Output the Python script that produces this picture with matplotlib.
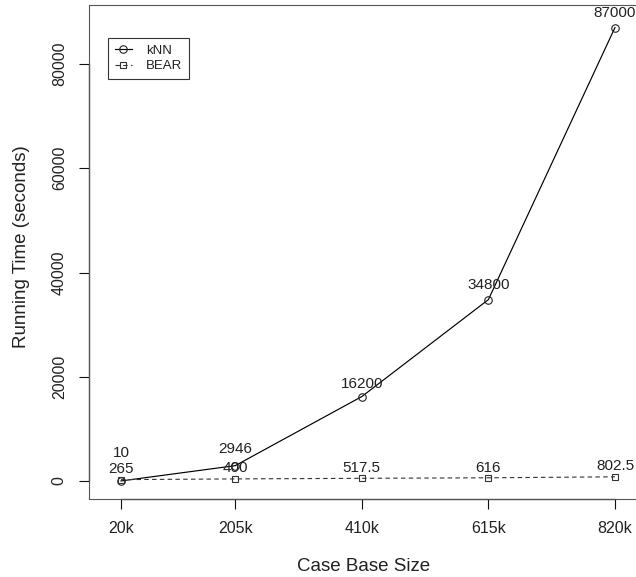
import numpy as np
import matplotlib
matplotlib.use("Agg")
import matplotlib.pyplot as plt

plt.rcParams['font.family'] = ['Liberation Sans', 'DejaVu Sans']

# data
case_base_size = [20, 205, 410, 615, 820]
size_labels = ["20k", "205k", "410k", "615k", "820k"]
knn_time = [10, 2946, 16200, 34800, 87000]
bear_time = [265, 400, 517.5, 616, 802.5]
knn_text = ["10", "2946", "16200", "34800", "87000"]
bear_text = ["265", "400", "517.5", "616", "802.5"]
y_ticks = [0, 20000, 40000, 60000, 80000]

# label offsets above the points (pixels)
knn_off = [28, 17, 13, 14.5, 15]
bear_off = [11, 10.7, 10, 10, 10.6]

W, H = 636, 577
fig = plt.figure(figsize=(W / 100, H / 100), dpi=100)
ax = fig.add_axes([89 / W, (H - 499) / H, 550 / W, 494.5 / H])

txt = '#222222'

ax.plot(case_base_size, knn_time, color='black', lw=0.85, marker='o', ms=5.4,
        mfc='none', mec='#222222', mew=0.8, label='kNN')
ax.plot(case_base_size, bear_time, color='#333333', lw=0.8, ls=(0, (4, 3)),
        marker='s', ms=5, mfc='none', mec='#333333', mew=0.8, label='BEAR')

for x, y, t, o in zip(case_base_size, knn_time, knn_text, knn_off):
    ax.annotate(t, (x, y), xytext=(0, o), textcoords='offset pixels',
                ha='center', va='center', fontsize=11, color=txt,
                annotation_clip=False)
for x, y, t, o in zip(case_base_size, bear_time, bear_text, bear_off):
    ax.annotate(t, (x, y), xytext=(0, o), textcoords='offset pixels',
                ha='center', va='center', fontsize=11, color=txt,
                annotation_clip=False)

ax.set_xlim(-31.8, 858.9)
ax.set_ylim(-3453, 91415)

ax.set_xticks(case_base_size)
ax.set_xticklabels(size_labels)
ax.set_yticks(y_ticks)
ax.set_yticklabels([str(v) for v in y_ticks], rotation=90, va='center')
ax.tick_params(direction='out', length=7, width=0.8, pad=9,
               labelsize=11.5, labelcolor=txt, color='#111111')

for s in ax.spines.values():
    s.set_color('#555555')
    s.set_linewidth(0.8)
# the box's right side falls outside the picture
ax.spines['right'].set_visible(False)

# R style axis lines between the outer ticks
ax.plot([case_base_size[0], case_base_size[-1]], [-3453, -3453],
        color='#111111', lw=0.9, clip_on=False)
ax.plot([-31.8, -31.8], [y_ticks[0], y_ticks[-1]],
        color='#111111', lw=0.9, clip_on=False)

ax.set_xlabel("Case Base Size", fontsize=13.5, color=txt, va='center')
ax.xaxis.set_label_coords(0.5, -0.1355)
ax.set_ylabel("Running Time (seconds)", fontsize=13.5, color=txt, va='center')
ax.yaxis.set_label_coords(-0.122, 0.51)

leg = ax.legend(loc='upper left', bbox_to_anchor=(108 / W, 1 - 38 / H),
                bbox_transform=fig.transFigure, borderaxespad=0,
                fancybox=False, fontsize=9.5, handlelength=1.3,
                handletextpad=1.1, labelspacing=0.25, borderpad=0.5)
leg.get_frame().set_edgecolor('black')
leg.get_frame().set_linewidth(0.8)
for t in leg.get_texts():
    t.set_color(txt)

fig.savefig("out.png", dpi=100)
